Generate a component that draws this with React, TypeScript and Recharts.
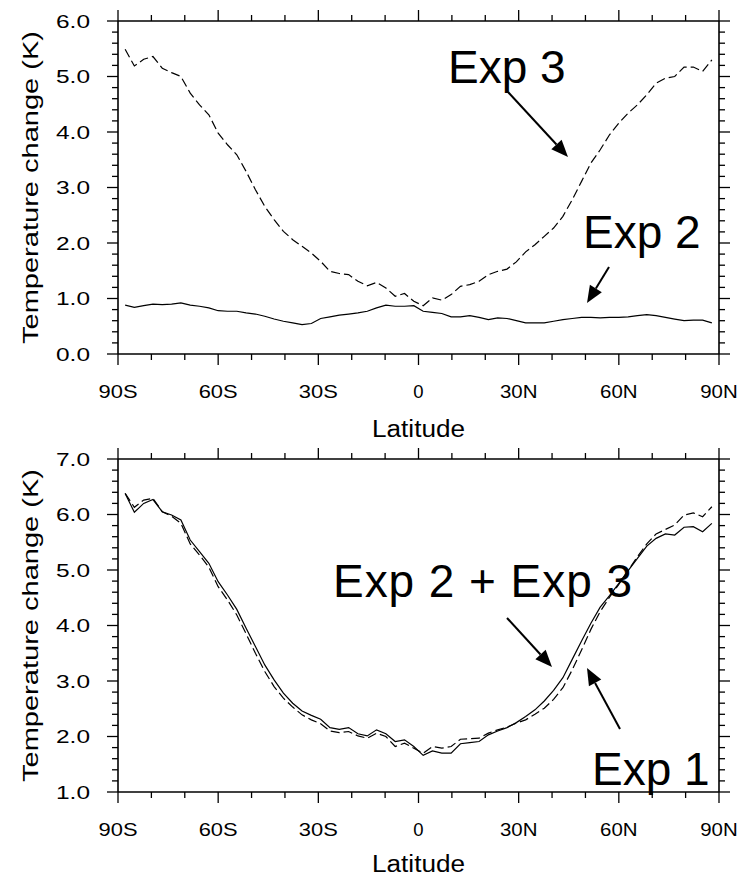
import React from "react";
import { Line, LineChart, XAxis, YAxis } from "recharts";

const LATS = [
  -87.86, -85.1, -82.31, -79.53, -76.74, -73.95, -71.16, -68.37, -65.58, -62.79, -60.0, -57.21,
  -54.42, -51.63, -48.84, -46.04, -43.25, -40.46, -37.67, -34.88, -32.09, -29.3, -26.51, -23.72,
  -20.93, -18.14, -15.35, -12.56, -9.77, -6.98, -4.19, -1.4, 1.4, 4.19, 6.98, 9.77, 12.56, 15.35,
  18.14, 20.93, 23.72, 26.51, 29.3, 32.09, 34.88, 37.67, 40.46, 43.25, 46.04, 48.84, 51.63, 54.42,
  57.21, 60.0, 62.79, 65.58, 68.37, 71.16, 73.95, 76.74, 79.53, 82.31, 85.1, 87.86,
];

// top panel
const EXP3 = [
  5.49, 5.19, 5.31, 5.36, 5.15, 5.07, 5.0, 4.7, 4.49, 4.31, 3.98, 3.77, 3.59, 3.29, 2.96, 2.66,
  2.42, 2.21, 2.06, 1.94, 1.82, 1.67, 1.49, 1.45, 1.43, 1.31, 1.23, 1.29, 1.19, 1.04, 1.09, 0.95,
  0.87, 1.01, 0.97, 1.07, 1.22, 1.25, 1.31, 1.43, 1.49, 1.53, 1.66, 1.84, 1.97, 2.12, 2.27, 2.48,
  2.78, 3.11, 3.44, 3.68, 3.95, 4.16, 4.34, 4.49, 4.67, 4.88, 4.97, 5.0, 5.17, 5.17, 5.09, 5.3,
];
const EXP2 = [
  0.88, 0.84, 0.87, 0.9, 0.89, 0.9, 0.92, 0.88, 0.86, 0.83, 0.78, 0.77, 0.77, 0.74, 0.72, 0.68,
  0.63, 0.59, 0.56, 0.53, 0.55, 0.64, 0.67, 0.7, 0.72, 0.74, 0.77, 0.83, 0.88, 0.86, 0.86, 0.87,
  0.77, 0.75, 0.73, 0.67, 0.67, 0.69, 0.66, 0.62, 0.65, 0.64, 0.6, 0.56, 0.56, 0.56, 0.59, 0.62,
  0.64, 0.66, 0.66, 0.65, 0.66, 0.66, 0.67, 0.69, 0.71, 0.69, 0.66, 0.63, 0.6, 0.61, 0.61, 0.56,
];

// bottom panel
const EXP23 = [
  6.38, 6.04, 6.2, 6.27, 6.05, 5.99, 5.9, 5.54, 5.33, 5.12, 4.79, 4.55, 4.29, 3.95, 3.62, 3.29,
  3.02, 2.78, 2.6, 2.46, 2.38, 2.31, 2.16, 2.13, 2.16, 2.05, 2.01, 2.12, 2.05, 1.91, 1.94, 1.82,
  1.66, 1.74, 1.7, 1.7, 1.87, 1.89, 1.91, 2.03, 2.1, 2.16, 2.25, 2.36, 2.48, 2.64, 2.83, 3.06,
  3.39, 3.72, 4.04, 4.33, 4.54, 4.76, 4.99, 5.21, 5.43, 5.57, 5.65, 5.63, 5.77, 5.78, 5.69, 5.84,
];
const EXP1 = [
  6.38, 6.13, 6.26, 6.29, 6.05, 5.97, 5.84, 5.47, 5.27, 5.05, 4.7, 4.46, 4.19, 3.85, 3.5, 3.17,
  2.9, 2.69, 2.53, 2.39, 2.3, 2.23, 2.1, 2.07, 2.09, 2.01, 1.97, 2.06, 2.0, 1.82, 1.88, 1.79,
  1.7, 1.82, 1.79, 1.82, 1.95, 1.96, 1.97, 2.06, 2.12, 2.17, 2.24, 2.3, 2.4, 2.51, 2.67, 2.88,
  3.2, 3.56, 3.93, 4.25, 4.51, 4.74, 4.99, 5.24, 5.47, 5.65, 5.73, 5.81, 5.99, 6.03, 5.96, 6.14,
];

const LAT_TICKS = [-90, -80, -70, -60, -50, -40, -30, -20, -10, 0, 10, 20, 30, 40, 50, 60, 70, 80, 90];
const Y_TICKS_TOP = [
  0, 0.2, 0.4, 0.6, 0.8, 1, 1.2, 1.4, 1.6, 1.8, 2, 2.2, 2.4, 2.6, 2.8, 3, 3.2, 3.4, 3.6, 3.8, 4,
  4.2, 4.4, 4.6, 4.8, 5, 5.2, 5.4, 5.6, 5.8, 6,
];
const Y_TICKS_BOTTOM = [
  1, 1.2, 1.4, 1.6, 1.8, 2, 2.2, 2.4, 2.6, 2.8, 3, 3.2, 3.4, 3.6, 3.8, 4, 4.2, 4.4, 4.6, 4.8, 5,
  5.2, 5.4, 5.6, 5.8, 6, 6.2, 6.4, 6.6, 6.8, 7,
];

const FONT = "'Liberation Sans', Arial, Helvetica, sans-serif";
const W = 746;
const MAJOR = 11;
const MINOR = 6;

const isMajorY = (v: number) => Math.abs(v - Math.round(v)) < 1e-6;
const latLabel = (v: number) => (v === 0 ? "0" : v < 0 ? `${-v}S` : `${v}N`);

function BottomTick({ x, y, payload }: any) {
  const v = payload.value;
  const major = v % 30 === 0;
  const label = latLabel(v);
  return (
    <g>
      <line x1={x} y1={y} x2={x} y2={y + (major ? MAJOR : MINOR)} stroke="#000" strokeWidth={1.3} />
      {major && (
        <text
          x={x}
          y={y + 44}
          textAnchor="middle"
          fontFamily={FONT}
          fontSize={18.5}
          fill="#000"
          {...(label.length > 1 ? { textLength: v < 0 ? 39 : 37.5, lengthAdjust: "spacingAndGlyphs" } : {})}
        >
          {label}
        </text>
      )}
    </g>
  );
}

function TopTick({ x, y, payload }: any) {
  const major = payload.value % 30 === 0;
  return <line x1={x} y1={y} x2={x} y2={y - (major ? MAJOR : MINOR)} stroke="#000" strokeWidth={1.3} />;
}

function LeftTick({ x, y, payload }: any) {
  const v = payload.value;
  const major = isMajorY(v);
  return (
    <g>
      <line x1={x} y1={y} x2={x - (major ? MAJOR : MINOR)} y2={y} stroke="#000" strokeWidth={1.3} />
      {major && (
        <text
          x={x - 28}
          y={y + 6.5}
          textAnchor="end"
          fontFamily={FONT}
          fontSize={18.5}
          fill="#000"
          textLength={34}
          lengthAdjust="spacingAndGlyphs"
        >
          {v.toFixed(1)}
        </text>
      )}
    </g>
  );
}

function RightTick({ x, y, payload }: any) {
  const major = isMajorY(payload.value);
  return <line x1={x} y1={y} x2={x + (major ? MAJOR : MINOR)} y2={y} stroke="#000" strokeWidth={1.3} />;
}

function Arrow({ x1, y1, x2, y2 }: { x1: number; y1: number; x2: number; y2: number }) {
  const dx = x2 - x1;
  const dy = y2 - y1;
  const len = Math.hypot(dx, dy);
  const ux = dx / len;
  const uy = dy / len;
  const hl = 17;
  const hw = 7;
  const bx = x2 - ux * hl;
  const by = y2 - uy * hl;
  const pts = `${x2},${y2} ${bx - uy * hw},${by + ux * hw} ${bx + uy * hw},${by - ux * hw}`;
  return (
    <g>
      <line x1={x1} y1={y1} x2={bx} y2={by} stroke="#000" strokeWidth={2} />
      <polygon points={pts} fill="#000" />
    </g>
  );
}

function Panel({
  height,
  top,
  bottom,
  yDomain,
  yTicks,
  series,
}: {
  height: number;
  top: number;
  bottom: number;
  yDomain: [number, number];
  yTicks: number[];
  series: { key: string; dashed: boolean }[];
}) {
  const data = LATS.map((lat, i) => ({
    lat,
    exp3: EXP3[i],
    exp2: EXP2[i],
    exp23: EXP23[i],
    exp1: EXP1[i],
  }));
  return (
    <LineChart width={W} height={height} data={data} margin={{ top: 0, right: 0, bottom: 0, left: 0 }}>
      <XAxis
        dataKey="lat"
        type="number"
        domain={[-90, 90]}
        ticks={LAT_TICKS}
        interval={0}
        allowDataOverflow
        height={bottom}
        tickSize={0}
        tickMargin={0}
        tickLine={false}
        axisLine={{ stroke: "#000", strokeWidth: 1.6 }}
        tick={<BottomTick />}
      />
      <XAxis
        xAxisId="top"
        orientation="top"
        dataKey="lat"
        type="number"
        domain={[-90, 90]}
        ticks={LAT_TICKS}
        interval={0}
        allowDataOverflow
        height={top}
        tickSize={0}
        tickMargin={0}
        tickLine={false}
        axisLine={{ stroke: "#000", strokeWidth: 1.6 }}
        tick={<TopTick />}
      />
      <YAxis
        type="number"
        domain={yDomain}
        ticks={yTicks}
        interval={0}
        allowDataOverflow
        width={118}
        tickSize={0}
        tickMargin={0}
        tickLine={false}
        axisLine={{ stroke: "#000", strokeWidth: 1.6 }}
        tick={<LeftTick />}
      />
      <YAxis
        yAxisId="right"
        orientation="right"
        type="number"
        domain={yDomain}
        ticks={yTicks}
        interval={0}
        allowDataOverflow
        width={W - 719}
        tickSize={0}
        tickMargin={0}
        tickLine={false}
        axisLine={{ stroke: "#000", strokeWidth: 1.6 }}
        tick={<RightTick />}
      />
      {series.map((s) => (
        <Line
          key={s.key}
          dataKey={s.key}
          type="linear"
          stroke="#000"
          strokeWidth={1.2}
          strokeDasharray={s.dashed ? "9 4" : undefined}
          dot={false}
          activeDot={false}
          isAnimationActive={false}
        />
      ))}
    </LineChart>
  );
}

export default function App() {
  const textStyle = { fontFamily: FONT, fill: "#000" };
  return (
    <div style={{ position: "absolute", left: 0, top: 0, width: W, height: 883, background: "#fff" }}>
      <div style={{ position: "absolute", left: 0, top: 0 }}>
        <Panel
          height={440}
          top={21}
          bottom={86}
          yDomain={[0, 6]}
          yTicks={Y_TICKS_TOP}
          series={[
            { key: "exp3", dashed: true },
            { key: "exp2", dashed: false },
          ]}
        />
      </div>
      <div style={{ position: "absolute", left: 0, top: 440 }}>
        <Panel
          height={443}
          top={19}
          bottom={91}
          yDomain={[1, 7]}
          yTicks={Y_TICKS_BOTTOM}
          series={[
            { key: "exp1", dashed: true },
            { key: "exp23", dashed: false },
          ]}
        />
      </div>
      <svg
        width={W}
        height={883}
        style={{ position: "absolute", left: 0, top: 0, pointerEvents: "none" }}
      >
        {/* axis titles */}
        <text
          x={38}
          y={187.5}
          transform="rotate(-90 38 187.5)"
          textAnchor="middle"
          fontSize={21.5}
          textLength={313}
          lengthAdjust="spacingAndGlyphs"
          {...textStyle}
        >
          Temperature change (K)
        </text>
        <text
          x={38}
          y={625.5}
          transform="rotate(-90 38 625.5)"
          textAnchor="middle"
          fontSize={21.5}
          textLength={313}
          lengthAdjust="spacingAndGlyphs"
          {...textStyle}
        >
          Temperature change (K)
        </text>
        <text x={418.5} y={437} textAnchor="middle" fontSize={23} textLength={93} lengthAdjust="spacingAndGlyphs" {...textStyle}>
          Latitude
        </text>
        <text x={418.5} y={872} textAnchor="middle" fontSize={23} textLength={93} lengthAdjust="spacingAndGlyphs" {...textStyle}>
          Latitude
        </text>

        {/* annotations */}
        <text x={448} y={83} fontSize={46} {...textStyle}>
          Exp 3
        </text>
        <Arrow x1={508} y1={92} x2={568} y2={157} />
        <text x={583} y={248} fontSize={46} {...textStyle}>
          Exp 2
        </text>
        <Arrow x1={609} y1={267} x2={587} y2={303} />
        <text x={333} y={597} fontSize={46} textLength={299} lengthAdjust="spacing" {...textStyle}>
          Exp 2 + Exp 3
        </text>
        <Arrow x1={507} y1={618} x2={552} y2={667} />
        <text x={592} y={785} fontSize={46} {...textStyle}>
          Exp 1
        </text>
        <Arrow x1={620} y1={729} x2={587} y2={668} />
      </svg>
    </div>
  );
}
